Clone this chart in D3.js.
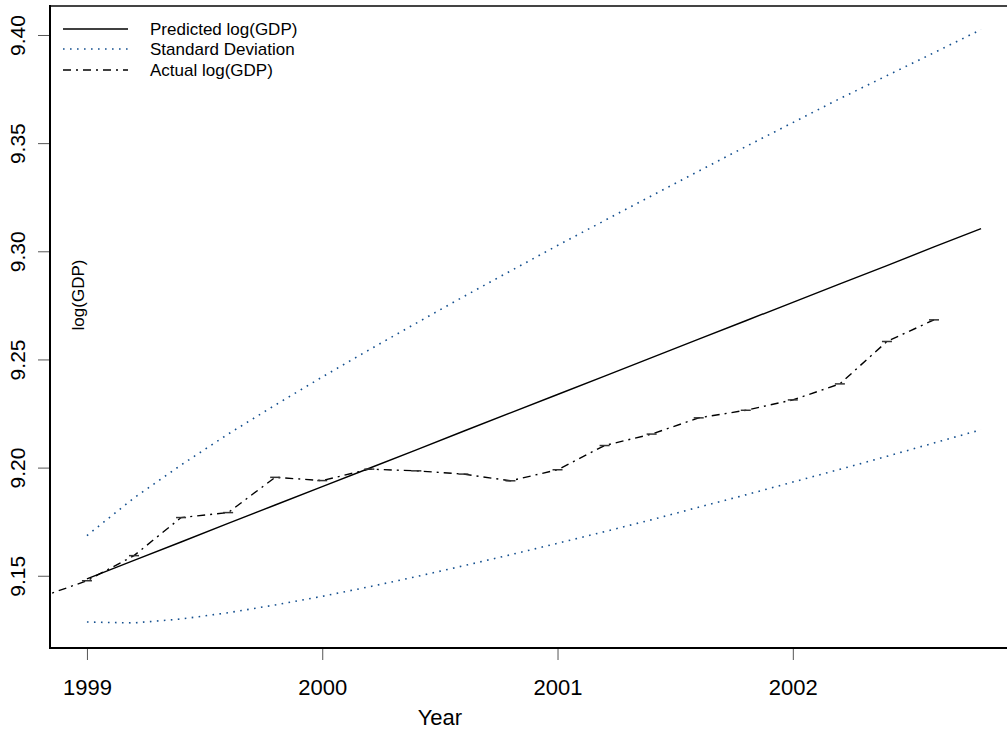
<!DOCTYPE html>
<html>
<head>
<meta charset="utf-8">
<script src="https://cdn.jsdelivr.net/npm/d3@7"></script>
<style>
  body { margin: 0; background: #fff; }
  svg { display: block; font-family: "Liberation Sans", Arial, sans-serif; }
</style>
</head>
<body>
<div id="chart"></div>
<script>
// forecast horizon, quarter-ish steps of 0.2 year
var predYears = [1999.0, 1999.2, 1999.4, 1999.6, 1999.8, 2000.0, 2000.2, 2000.4, 2000.6, 2000.8,
                 2001.0, 2001.2, 2001.4, 2001.6, 2001.8, 2002.0, 2002.2, 2002.4, 2002.6, 2002.8];
var predicted = [9.1486, 9.1571, 9.1656, 9.1742, 9.1827, 9.1912, 9.1997, 9.2082, 9.2168, 9.2253,
                 9.2338, 9.2423, 9.2508, 9.2594, 9.2679, 9.2764, 9.2849, 9.2934, 9.3020, 9.3105];
var sdUpper = [9.1686, 9.1860, 9.2012, 9.2155, 9.2289, 9.2419, 9.2545, 9.2668, 9.2790, 9.2909,
               9.3027, 9.3142, 9.3257, 9.3371, 9.3484, 9.3595, 9.3706, 9.3812, 9.3918, 9.4025];
var sdLower = [9.1286, 9.1282, 9.1300, 9.1329, 9.1365, 9.1405, 9.1449, 9.1496, 9.1546, 9.1597,
               9.1650, 9.1704, 9.1759, 9.1817, 9.1874, 9.1933, 9.1992, 9.2052, 9.2114, 9.2175];

var actualYears = [1998.8, 1999.0, 1999.2, 1999.4, 1999.6, 1999.8, 2000.0, 2000.2, 2000.4, 2000.6,
                   2000.8, 2001.0, 2001.2, 2001.4, 2001.6, 2001.8, 2002.0, 2002.2, 2002.4, 2002.6];
var actual = [9.1400, 9.1477, 9.1593, 9.1769, 9.1792, 9.1955, 9.1940, 9.1993, 9.1985, 9.1970,
              9.1939, 9.1990, 9.2102, 9.2155, 9.2230, 9.2265, 9.2313, 9.2387, 9.2583, 9.2683];

var xTicks = [1999, 2000, 2001, 2002];
var yTicks = [9.15, 9.20, 9.25, 9.30, 9.35, 9.40];
var legendLabels = ["Predicted log(GDP)", "Standard Deviation", "Actual log(GDP)"];

var width = 1007, height = 730;
var plot = {left: 50, top: 6, right: 1010, bottom: 648};
var blue = "#15508f";

var svg = d3.select("#chart").append("svg")
    .attr("width", width)
    .attr("height", height);

var x = d3.scaleLinear()
    .domain([1998.843, 2002.923])
    .range([plot.left, plot.right]);

var y = d3.scaleLinear()
    .domain([9.1166, 9.4134])
    .range([plot.bottom, plot.top]);

svg.append("clipPath")
    .attr("id", "plotClip")
  .append("rect")
    .attr("x", plot.left + 1)
    .attr("y", plot.top + 1)
    .attr("width", plot.right - plot.left)
    .attr("height", plot.bottom - plot.top - 2);

var line = d3.line()
    .x(function(d) { return x(d[0]); })
    .y(function(d) { return y(d[1]); });

var g = svg.append("g").attr("clip-path", "url(#plotClip)");

g.append("path")
    .datum(d3.zip(predYears, sdUpper))
    .attr("d", line)
    .attr("fill", "none")
    .attr("stroke", blue)
    .attr("stroke-width", 1.6)
    .attr("stroke-dasharray", "1.6,5.4");

g.append("path")
    .datum(d3.zip(predYears, sdLower))
    .attr("d", line)
    .attr("fill", "none")
    .attr("stroke", blue)
    .attr("stroke-width", 1.6)
    .attr("stroke-dasharray", "1.6,5.4");

g.append("path")
    .datum(d3.zip(predYears, predicted))
    .attr("d", line)
    .attr("fill", "none")
    .attr("stroke", "#000")
    .attr("stroke-width", 1.4);

g.append("path")
    .datum(d3.zip(actualYears, actual))
    .attr("d", line)
    .attr("fill", "none")
    .attr("stroke", "#000")
    .attr("stroke-width", 1.4)
    .attr("stroke-dasharray", "8,5,2,5");

// little dash marks on each observed point
g.selectAll(".mark")
    .data(d3.zip(actualYears, actual))
  .enter().append("line")
    .attr("class", "mark")
    .attr("x1", function(d) { return x(d[0]) - 5; })
    .attr("x2", function(d) { return x(d[0]) + 5; })
    .attr("y1", function(d) { return y(d[1]); })
    .attr("y2", function(d) { return y(d[1]); })
    .attr("stroke", "#333")
    .attr("stroke-width", 1.5);

// axes
var xAxis = d3.axisBottom(x)
    .tickValues(xTicks)
    .tickSize(12)
    .tickFormat(d3.format("d"));

var yAxis = d3.axisLeft(y)
    .tickValues(yTicks)
    .tickSize(12)
    .tickFormat(d3.format(".2f"));

var gx = svg.append("g")
    .attr("transform", "translate(0," + plot.bottom + ")")
    .call(xAxis);
gx.select(".domain").remove();
gx.selectAll(".tick line").attr("stroke", "#555");
gx.selectAll(".tick text")
    .attr("y", 47)
    .attr("dy", null)
    .attr("fill", "#000")
    .style("font-size", "22px")
    .style("font-family", "Liberation Sans, Arial, sans-serif");

var gy = svg.append("g")
    .attr("transform", "translate(" + plot.left + ",0)")
    .call(yAxis);
gy.select(".domain").remove();
gy.selectAll(".tick line").attr("stroke", "#555");
gy.selectAll(".tick text")
    .attr("transform", "rotate(-90)")
    .attr("x", 0)
    .attr("y", -25)
    .attr("dy", null)
    .attr("fill", "#000")
    .style("text-anchor", "middle")
    .style("font-size", "21px")
    .style("font-family", "Liberation Sans, Arial, sans-serif");

// frame
svg.append("line")
    .attr("x1", plot.left).attr("x2", plot.right)
    .attr("y1", plot.top).attr("y2", plot.top)
    .attr("stroke", "#444").attr("stroke-width", 2);
svg.append("line")
    .attr("x1", plot.left).attr("x2", plot.left)
    .attr("y1", plot.top - 1).attr("y2", plot.bottom + 1)
    .attr("stroke", "#000").attr("stroke-width", 2);
svg.append("line")
    .attr("x1", plot.left - 1).attr("x2", plot.right)
    .attr("y1", plot.bottom).attr("y2", plot.bottom)
    .attr("stroke", "#000").attr("stroke-width", 2);

svg.append("text")
    .attr("x", x(2000.5))
    .attr("y", 725)
    .attr("text-anchor", "middle")
    .style("font-size", "22px")
    .text("Year");

svg.append("text")
    .attr("transform", "translate(84,295) rotate(-90)")
    .attr("text-anchor", "middle")
    .style("font-size", "17px")
    .text("log(GDP)");

// legend
var legendStyles = [
  {stroke: "#000", dash: null},
  {stroke: blue, dash: "1.6,5.4"},
  {stroke: "#000", dash: "8,5,2,5"}
];
var legendY = [29, 49, 70];

var legend = svg.append("g").attr("class", "legend");
legendLabels.forEach(function(label, i) {
  legend.append("line")
      .attr("x1", 63).attr("x2", 128)
      .attr("y1", legendY[i]).attr("y2", legendY[i])
      .attr("stroke", legendStyles[i].stroke)
      .attr("stroke-width", i === 1 ? 1.6 : 1.4)
      .attr("stroke-dasharray", legendStyles[i].dash);
  legend.append("text")
      .attr("x", 150)
      .attr("y", legendY[i])
      .attr("dy", "0.35em")
      .style("font-size", "17px")
      .text(label);
});
</script>
</body>
</html>
